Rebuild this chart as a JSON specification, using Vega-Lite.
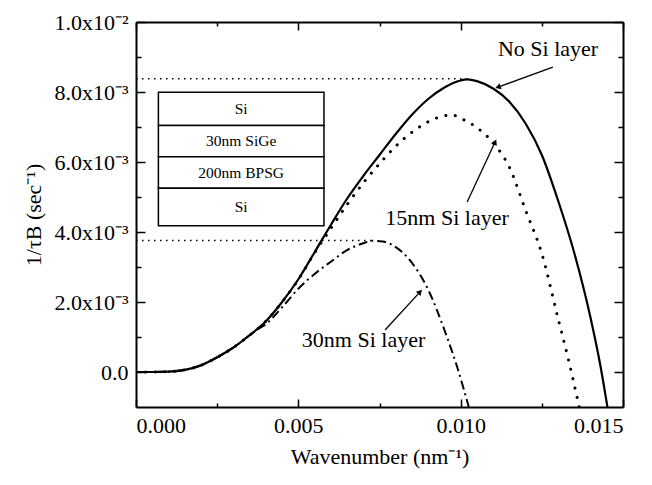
{
  "$schema": "https://vega.github.io/schema/vega-lite/v6.json",
  "width": 487,
  "height": 385,
  "autosize": "none",
  "padding": {"left": 136, "top": 22, "right": 29, "bottom": 78},
  "background": "white",
  "config": {
    "font": "'Liberation Serif', 'Times New Roman', Times, serif",
    "text": {"font": "'Liberation Serif', 'Times New Roman', Times, serif"},
    "view": {"stroke": null},
    "axis": {
      "grid": false,
      "domainColor": "black",
      "domainWidth": 2,
      "tickColor": "black",
      "tickWidth": 1.5,
      "labelColor": "black",
      "titleColor": "black",
      "labelFont": "'Liberation Serif', 'Times New Roman', Times, serif",
      "titleFont": "'Liberation Serif', 'Times New Roman', Times, serif",
      "labelFontSize": 22,
      "titleFontSize": 22,
      "titleFontWeight": "normal"
    }
  },
  "datasets": {
    "curves": [
      {"s": "none", "x": 0, "y": 0},
      {"s": "none", "x": 0.0005, "y": 0},
      {"s": "none", "x": 0.001, "y": 0.00001},
      {"s": "none", "x": 0.0015, "y": 0.00006},
      {"s": "none", "x": 0.002, "y": 0.00019},
      {"s": "none", "x": 0.0025, "y": 0.00042},
      {"s": "none", "x": 0.003, "y": 0.0007},
      {"s": "none", "x": 0.0035, "y": 0.00105},
      {"s": "none", "x": 0.004, "y": 0.00145},
      {"s": "none", "x": 0.0045, "y": 0.002},
      {"s": "none", "x": 0.005, "y": 0.00265},
      {"s": "none", "x": 0.0055, "y": 0.00342},
      {"s": "none", "x": 0.006, "y": 0.0042},
      {"s": "none", "x": 0.0065, "y": 0.00495},
      {"s": "none", "x": 0.007, "y": 0.0056},
      {"s": "none", "x": 0.0075, "y": 0.0062},
      {"s": "none", "x": 0.008, "y": 0.0068},
      {"s": "none", "x": 0.0085, "y": 0.00735},
      {"s": "none", "x": 0.009, "y": 0.0078},
      {"s": "none", "x": 0.0095, "y": 0.00813},
      {"s": "none", "x": 0.01, "y": 0.00833},
      {"s": "none", "x": 0.0102, "y": 0.00836},
      {"s": "none", "x": 0.0105, "y": 0.00831},
      {"s": "none", "x": 0.011, "y": 0.0081},
      {"s": "none", "x": 0.0115, "y": 0.00772},
      {"s": "none", "x": 0.012, "y": 0.0071},
      {"s": "none", "x": 0.0125, "y": 0.0062},
      {"s": "none", "x": 0.013, "y": 0.0049},
      {"s": "none", "x": 0.0135, "y": 0.0034},
      {"s": "none", "x": 0.014, "y": 0.00155},
      {"s": "none", "x": 0.0143, "y": 0.0002},
      {"s": "none", "x": 0.01452, "y": -0.001},
      {"s": "15nm", "x": 0, "y": 0},
      {"s": "15nm", "x": 0.0005, "y": 0},
      {"s": "15nm", "x": 0.001, "y": 0.00001},
      {"s": "15nm", "x": 0.0015, "y": 0.00006},
      {"s": "15nm", "x": 0.002, "y": 0.00019},
      {"s": "15nm", "x": 0.0025, "y": 0.00042},
      {"s": "15nm", "x": 0.003, "y": 0.0007},
      {"s": "15nm", "x": 0.0035, "y": 0.00105},
      {"s": "15nm", "x": 0.004, "y": 0.00145},
      {"s": "15nm", "x": 0.0045, "y": 0.002},
      {"s": "15nm", "x": 0.005, "y": 0.00264},
      {"s": "15nm", "x": 0.0055, "y": 0.0034},
      {"s": "15nm", "x": 0.006, "y": 0.0041},
      {"s": "15nm", "x": 0.0065, "y": 0.00478},
      {"s": "15nm", "x": 0.007, "y": 0.0054},
      {"s": "15nm", "x": 0.0075, "y": 0.00595},
      {"s": "15nm", "x": 0.008, "y": 0.00645},
      {"s": "15nm", "x": 0.0085, "y": 0.00685},
      {"s": "15nm", "x": 0.009, "y": 0.00715},
      {"s": "15nm", "x": 0.0095, "y": 0.00732},
      {"s": "15nm", "x": 0.00975, "y": 0.00734},
      {"s": "15nm", "x": 0.01, "y": 0.00725},
      {"s": "15nm", "x": 0.0105, "y": 0.00698},
      {"s": "15nm", "x": 0.011, "y": 0.00655},
      {"s": "15nm", "x": 0.0115, "y": 0.00585},
      {"s": "15nm", "x": 0.012, "y": 0.00462},
      {"s": "15nm", "x": 0.0125, "y": 0.00338},
      {"s": "15nm", "x": 0.013, "y": 0.00153},
      {"s": "15nm", "x": 0.0133, "y": 0.00043},
      {"s": "15nm", "x": 0.01365, "y": -0.001},
      {"s": "30nm", "x": 0, "y": 0},
      {"s": "30nm", "x": 0.0005, "y": 0},
      {"s": "30nm", "x": 0.001, "y": 0.00001},
      {"s": "30nm", "x": 0.0015, "y": 0.00006},
      {"s": "30nm", "x": 0.002, "y": 0.00019},
      {"s": "30nm", "x": 0.0025, "y": 0.00042},
      {"s": "30nm", "x": 0.003, "y": 0.0007},
      {"s": "30nm", "x": 0.0035, "y": 0.00105},
      {"s": "30nm", "x": 0.0038, "y": 0.00125},
      {"s": "30nm", "x": 0.004, "y": 0.00137},
      {"s": "30nm", "x": 0.0045, "y": 0.00185},
      {"s": "30nm", "x": 0.005, "y": 0.00238},
      {"s": "30nm", "x": 0.0055, "y": 0.0028},
      {"s": "30nm", "x": 0.006, "y": 0.00315},
      {"s": "30nm", "x": 0.0065, "y": 0.00348},
      {"s": "30nm", "x": 0.007, "y": 0.00368},
      {"s": "30nm", "x": 0.0073, "y": 0.00375},
      {"s": "30nm", "x": 0.0076, "y": 0.00373},
      {"s": "30nm", "x": 0.008, "y": 0.00357},
      {"s": "30nm", "x": 0.0085, "y": 0.00312},
      {"s": "30nm", "x": 0.009, "y": 0.00235},
      {"s": "30nm", "x": 0.0095, "y": 0.0012},
      {"s": "30nm", "x": 0.0099, "y": 0.00012},
      {"s": "30nm", "x": 0.01025, "y": -0.001}
    ],
    "refs": [
      {"r": "a", "x": 0, "y": 0.00838},
      {"r": "a", "x": 0.0102, "y": 0.00838},
      {"r": "b", "x": 0, "y": 0.00376},
      {"r": "b", "x": 0.0073, "y": 0.00376}
    ],
    "box": [
      {"label": "Si", "x": 0.00069, "x2": 0.00579, "y": 0.00799, "y2": 0.00704},
      {"label": "30nm SiGe", "x": 0.00069, "x2": 0.00579, "y": 0.00704, "y2": 0.00615},
      {"label": "200nm BPSG", "x": 0.00069, "x2": 0.00579, "y": 0.00615, "y2": 0.00525},
      {"label": "Si", "x": 0.00069, "x2": 0.00579, "y": 0.00525, "y2": 0.00418}
    ],
    "boxText": [
      {"label": "Si", "x": 0.00324, "y": 0.007515},
      {"label": "30nm SiGe", "x": 0.00324, "y": 0.006595},
      {"label": "200nm BPSG", "x": 0.00324, "y": 0.0057},
      {"label": "Si", "x": 0.00324, "y": 0.004715}
    ],
    "notes": [
      {"label": "No Si layer", "x": 0.01269, "y": 0.00923},
      {"label": "15nm Si layer", "x": 0.00958, "y": 0.0044},
      {"label": "30nm Si layer", "x": 0.00701, "y": 0.00091}
    ],
    "arrows": [
      {"a": "none", "x": 0.01284, "y": 0.00871, "x2": 0.01115, "y2": 0.00814},
      {"a": "15nm", "x": 0.0102, "y": 0.00486, "x2": 0.01106, "y2": 0.00657},
      {"a": "30nm", "x": 0.00767, "y": 0.0012, "x2": 0.00875, "y2": 0.00229}
    ]
  },
  "layer": [
    {
      "encoding": {
        "x": {
          "field": "x", "type": "quantitative",
          "scale": {"domain": [0, 0.015], "nice": false, "zero": false},
          "axis": {
            "orient": "bottom",
            "values": [0, 0.0025, 0.005, 0.0075, 0.01, 0.0125, 0.015],
            "labelExpr": "round(datum.value*10000) % 50 == 0 ? format(datum.value, '.3f') : ''",
            "tickSize": {"condition": {"test": "round(datum.value*10000) % 50 != 0", "value": -4}, "value": -8},
            "labelPadding": 16,
            "title": "Wavenumber (nm⁻¹)",
            "titlePadding": 10
          }
        },
        "y": {
          "field": "y", "type": "quantitative",
          "scale": {"domain": [-0.001, 0.01], "nice": false, "zero": false},
          "axis": {
            "orient": "left",
            "values": [0, 0.001, 0.002, 0.003, 0.004, 0.005, 0.006, 0.007, 0.008, 0.009, 0.01],
            "labelExpr": "datum.value == 0 ? '0.0' : (round(datum.value*1000) % 2 != 0 ? '' : (round(datum.value*1000) == 10 ? '1.0x10⁻²' : format(datum.value*1000, '.1f') + 'x10⁻³'))",
            "tickSize": {"condition": {"test": "round(datum.value*1000) % 2 != 0", "value": -5}, "value": -9},
            "labelPadding": 17,
            "title": "1/τB (sec⁻¹)",
            "titlePadding": 8
          }
        }
      },
      "layer": [
        {
          "data": {"name": "refs"},
          "mark": {"type": "line", "color": "black", "strokeWidth": 1.5, "strokeDash": [1.5, 4.5]},
          "encoding": {"detail": {"field": "r", "type": "nominal"}}
        },
        {
          "data": {"name": "box"},
          "mark": {"type": "rect", "fill": "white", "stroke": "black", "strokeWidth": 1.5},
          "encoding": {"x2": {"field": "x2"}, "y2": {"field": "y2"}}
        },
        {
          "data": {"name": "boxText"},
          "mark": {"type": "text", "fontSize": 15.5, "color": "black", "align": "center", "baseline": "middle"},
          "encoding": {"text": {"field": "label"}}
        },
        {
          "data": {"name": "curves"},
          "transform": [{"filter": "datum.s == 'none'"}],
          "mark": {"type": "line", "color": "black", "strokeWidth": 2.2, "interpolate": "monotone", "clip": true},
          "encoding": {}
        },
        {
          "data": {"name": "curves"},
          "transform": [{"filter": "datum.s == '15nm'"}],
          "mark": {"type": "line", "color": "black", "strokeWidth": 3, "strokeDash": [0.1, 9.5], "strokeCap": "round", "interpolate": "monotone", "clip": true},
          "encoding": {}
        },
        {
          "data": {"name": "curves"},
          "transform": [{"filter": "datum.s == '30nm'"}],
          "mark": {"type": "line", "color": "black", "strokeWidth": 2, "strokeDash": [9, 4, 2, 4], "interpolate": "monotone", "clip": true},
          "encoding": {}
        },
        {
          "data": {"name": "notes"},
          "mark": {"type": "text", "fontSize": 22, "color": "black", "align": "center", "baseline": "middle"},
          "encoding": {"text": {"field": "label"}}
        },
        {
          "data": {"name": "arrows"},
          "mark": {"type": "rule", "color": "black", "strokeWidth": 1.3},
          "encoding": {"x2": {"field": "x2"}, "y2": {"field": "y2"}}
        },
        {
          "data": {"name": "arrows"},
          "transform": [{"filter": "datum.a == 'none'"}],
          "mark": {"type": "point", "shape": "triangle-up", "filled": true, "color": "black", "size": 40, "angle": 250, "opacity": 1},
          "encoding": {"x": {"field": "x2", "type": "quantitative"}, "y": {"field": "y2", "type": "quantitative"}}
        },
        {
          "data": {"name": "arrows"},
          "transform": [{"filter": "datum.a == '15nm'"}],
          "mark": {"type": "point", "shape": "triangle-up", "filled": true, "color": "black", "size": 40, "angle": 25, "opacity": 1},
          "encoding": {"x": {"field": "x2", "type": "quantitative"}, "y": {"field": "y2", "type": "quantitative"}}
        },
        {
          "data": {"name": "arrows"},
          "transform": [{"filter": "datum.a == '30nm'"}],
          "mark": {"type": "point", "shape": "triangle-up", "filled": true, "color": "black", "size": 40, "angle": 43, "opacity": 1},
          "encoding": {"x": {"field": "x2", "type": "quantitative"}, "y": {"field": "y2", "type": "quantitative"}}
        }
      ]
    },
    {
      "data": {"name": "refs"},
      "mark": {"type": "point", "opacity": 0},
      "encoding": {
        "x": {
          "field": "x", "type": "quantitative",
          "scale": {"domain": [0, 0.015], "nice": false, "zero": false},
          "axis": {
            "orient": "top",
            "values": [0, 0.0025, 0.005, 0.0075, 0.01, 0.0125, 0.015],
            "labels": false,
            "title": null,
            "tickSize": {"condition": {"test": "round(datum.value*10000) % 50 != 0", "value": -4}, "value": -8}
          }
        },
        "y": {
          "field": "y", "type": "quantitative",
          "scale": {"domain": [-0.001, 0.01], "nice": false, "zero": false},
          "axis": {
            "orient": "right",
            "values": [0, 0.001, 0.002, 0.003, 0.004, 0.005, 0.006, 0.007, 0.008, 0.009, 0.01],
            "labels": false,
            "title": null,
            "tickSize": {"condition": {"test": "round(datum.value*1000) % 2 != 0", "value": -5}, "value": -9}
          }
        }
      }
    }
  ],
  "resolve": {"scale": {"x": "independent", "y": "independent"}}
}
